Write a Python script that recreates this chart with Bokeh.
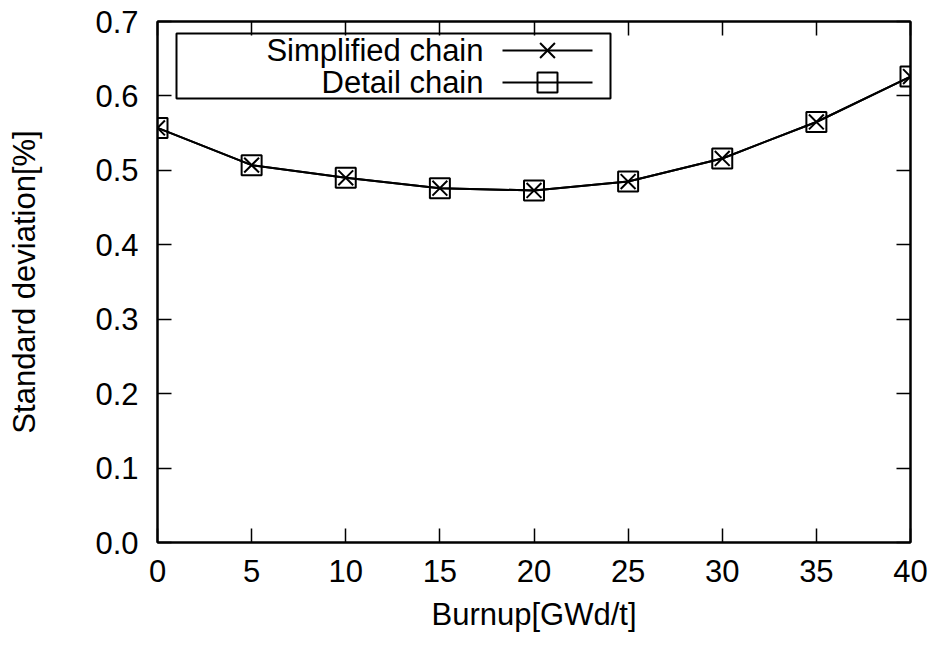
from bokeh.plotting import figure
from bokeh.models import (Range1d, LinearAxis, FixedTicker, BoxAnnotation, Label,
                          PrintfTickFormatter, CustomLabelingPolicy)
from bokeh.embed import file_html
from bokeh.resources import INLINE

# ---- data ----
burnup = [0, 5, 10, 15, 20, 25, 30, 35, 40]
simplified_chain = [0.557, 0.507, 0.490, 0.476, 0.473, 0.485, 0.516, 0.565, 0.626]
detail_chain = [0.557, 0.507, 0.490, 0.476, 0.473, 0.485, 0.516, 0.565, 0.626]
x_ticks = [0, 5, 10, 15, 20, 25, 30, 35, 40]
y_ticks = [0.0, 0.1, 0.2, 0.3, 0.4, 0.5, 0.6, 0.7]
series_names = ["Simplified chain", "Detail chain"]

FONT = "Liberation Sans"
FS = "31px"
FRAME_W, FRAME_H = 753, 521

p = figure(frame_width=FRAME_W, frame_height=FRAME_H,
           min_border_left=157, min_border_right=24,
           min_border_top=21, min_border_bottom=104,
           x_range=Range1d(0, 40), y_range=Range1d(0, 0.7),
           output_backend="svg", toolbar_location=None,
           x_axis_label="Burnup[GWd/t]", y_axis_label="Standard deviation[%]")

p.xgrid.visible = False
p.ygrid.visible = False
p.outline_line_color = "black"
p.outline_line_width = 2
p.outline_line_alpha = 1
p.background_fill_color = "white"
p.border_fill_color = "white"

hide_all = CustomLabelingPolicy(code="""
try { for (const i of Array.from(indices)) { indices.unset(i) } } catch (e) {}
return indices
""")

def style_axis(ax, ticks, show_labels):
    ax.ticker = FixedTicker(ticks=ticks)
    ax.minor_tick_line_color = None
    ax.major_tick_in = 14
    ax.major_tick_out = 0
    ax.major_tick_line_width = 1.5
    ax.major_tick_line_color = "black"
    ax.axis_line_color = "black"
    ax.axis_line_width = 2
    ax.major_label_text_font = FONT
    ax.major_label_text_color = "black"
    if show_labels:
        ax.major_label_text_font_size = FS
    else:
        ax.major_label_text_font_size = "0px"
        ax.major_label_standoff = 0
        ax.major_label_policy = hide_all

xa = p.xaxis[0]
ya = p.yaxis[0]
style_axis(xa, x_ticks, True)
style_axis(ya, y_ticks, True)
xa.major_label_standoff = 17
ya.major_label_standoff = 19
ya.formatter = PrintfTickFormatter(format="%.1f")
for ax in (xa, ya):
    ax.axis_label_text_font = FONT
    ax.axis_label_text_font_size = FS
    ax.axis_label_text_font_style = "normal"
    ax.axis_label_text_color = "black"
xa.axis_label_standoff = 12
ya.axis_label_standoff = 50

top = LinearAxis()
style_axis(top, x_ticks, False)
p.add_layout(top, "above")
right = LinearAxis()
style_axis(right, y_ticks, False)
p.add_layout(right, "right")

# ---- series ----
p.line(burnup, simplified_chain, line_color="black", line_width=2)
p.scatter(burnup, simplified_chain, marker="x", size=21, line_color="black", line_width=2)
p.line(burnup, detail_chain, line_color="black", line_width=2)
p.scatter(burnup, detail_chain, marker="square", size=20, line_color="black",
          line_width=2, fill_alpha=0)

# ---- legend (label left of key, as in the reference) ----
# a pixel-based range over the frame, used only to place the legend keys
p.extra_x_ranges["key"] = Range1d(0, FRAME_W)
p.extra_y_ranges["key"] = Range1d(0, FRAME_H)

box = BoxAnnotation(left=19, right=453, top=509, bottom=444,
                    left_units="screen", right_units="screen",
                    top_units="screen", bottom_units="screen",
                    fill_alpha=0, line_color="black", line_alpha=1.0,
                    line_width=2, line_dash="solid")
p.add_layout(box)

key_x0, key_x1, text_x = 345, 435, 326
rows = [(series_names[0], "x", 21, 492), (series_names[1], "square", 20, 460)]
for name, marker, size, ymid in rows:
    p.add_layout(Label(x=text_x, y=ymid, x_units="screen", y_units="screen", text=name,
                       text_align="right", text_baseline="middle",
                       text_font=FONT, text_font_size=FS, text_color="black"))
    p.line([key_x0, key_x1], [ymid, ymid], line_color="black", line_width=2,
           x_range_name="key", y_range_name="key")
    p.scatter([(key_x0 + key_x1) / 2], [ymid], marker=marker, size=size,
              line_color="black", line_width=2, fill_alpha=0,
              x_range_name="key", y_range_name="key")

open("out.html", "w").write(file_html(p, INLINE))
